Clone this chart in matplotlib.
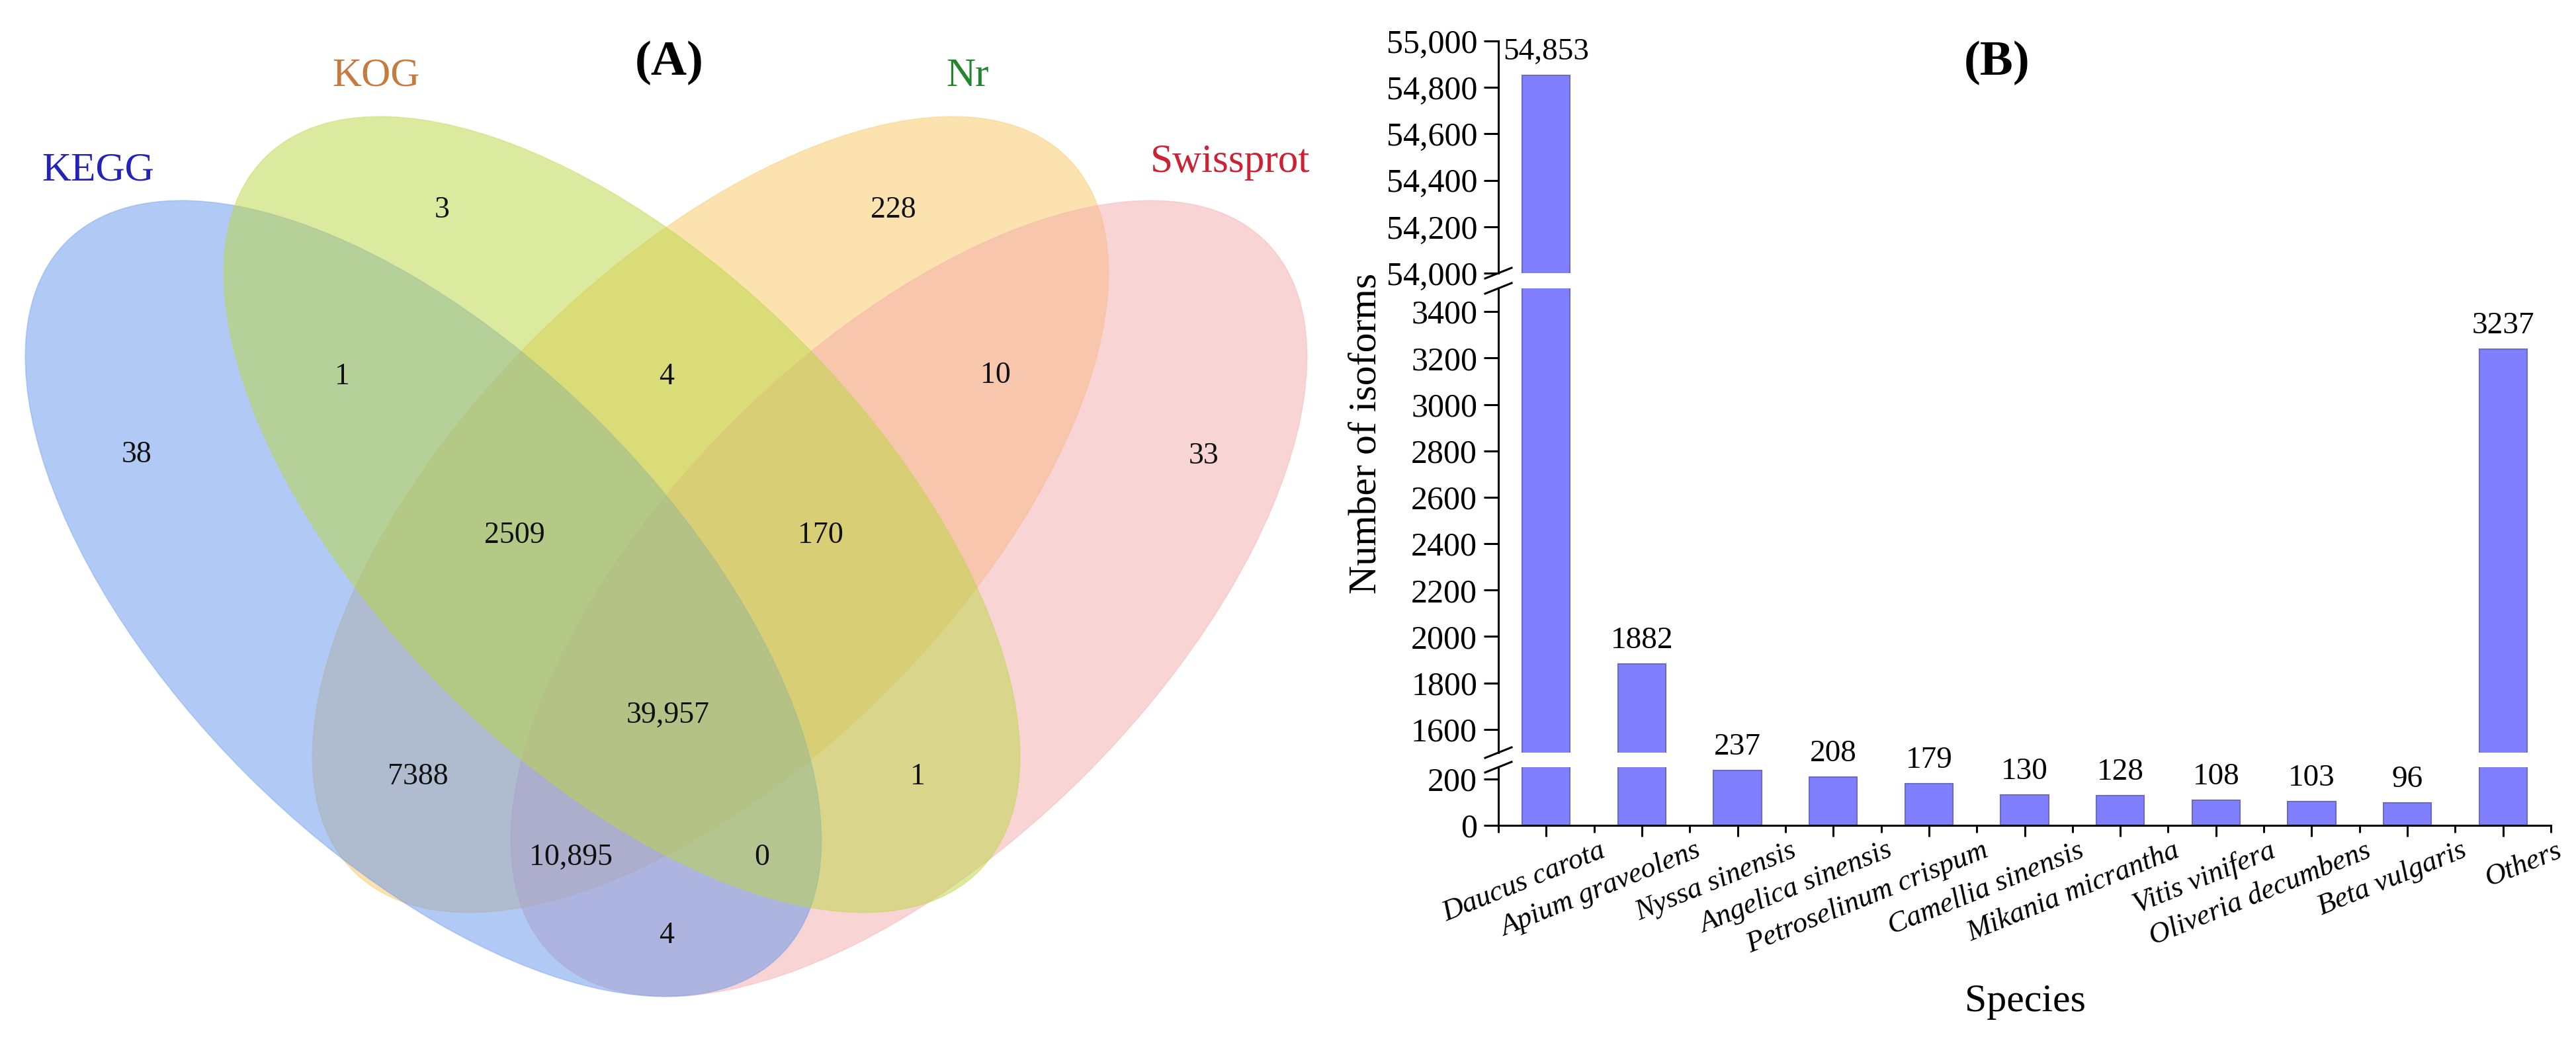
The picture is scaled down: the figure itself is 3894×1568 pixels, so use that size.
import matplotlib
matplotlib.use('Agg')
import matplotlib.pyplot as plt
from matplotlib.patches import Ellipse
from matplotlib.lines import Line2D
from matplotlib.transforms import offset_copy

plt.rcParams['font.family'] = ['Liberation Serif', 'DejaVu Serif']

# ---------------- data ----------------
set_names = ['KEGG', 'KOG', 'Nr', 'Swissprot']
set_label_colors = ['#2323B8', '#C57A40', '#23862F', '#CC2233']
set_fill_colors = ['#6495ED', '#BBD741', '#F9C761', '#F5ABAB']

region_names = ['KEGG', 'KOG', 'Nr', 'Swissprot',
                'KEGG&KOG', 'KOG&Nr', 'Nr&Swissprot',
                'KEGG&KOG&Nr', 'KOG&Nr&Swissprot', 'KEGG&KOG&Nr&Swissprot',
                'KEGG&Nr', 'KOG&Swissprot', 'KEGG&Nr&Swissprot',
                'KEGG&KOG&Swissprot', 'KEGG&Swissprot']
region_counts = [38, 3, 228, 33, 1, 4, 10, 2509, 170, 39957, 7388, 1, 10895, 0, 4]

species = ['Daucus carota', 'Apium graveolens', 'Nyssa sinensis', 'Angelica sinensis',
           'Petroselinum crispum', 'Camellia sinensis', 'Mikania micrantha',
           'Vitis vinifera', 'Oliveria decumbens', 'Beta vulgaris', 'Others']
isoforms = [54853, 1882, 237, 208, 179, 130, 128, 108, 103, 96, 3237]

# y-axis segments (broken axis): (low, high)
segments = [(54000, 55000), (1500, 3500), (0, 250)]
segment_ticks = [list(range(54000, 55001, 200)), list(range(1600, 3401, 200)), [0, 200]]

# ---------------- layout (pixels) ----------------
W, H = 3894, 1568
fig = plt.figure(figsize=(W / 100, H / 100), dpi=100)

# Venn panel drawn in pixel space
axv = fig.add_axes([0, 0, 1, 1])
axv.set_xlim(0, W)
axv.set_ylim(H, 0)
axv.axis('off')

ell_centers = [(640, 905), (940, 778), (1074, 778), (1374, 905)]
ell_angles = [45, 45, -45, -45]
draw_order = [2, 3, 0, 1]  # Nr, Swissprot, KEGG, KOG (KOG on top)
for i in draw_order:
    (cx, cy), ang, col = ell_centers[i], ell_angles[i], set_fill_colors[i]
    axv.add_patch(Ellipse((cx, cy), 1526, 754, angle=ang, facecolor=col,
                          alpha=0.5, edgecolor='none'))
    axv.add_patch(Ellipse((cx, cy), 1526, 754, angle=ang, facecolor='none',
                          edgecolor=col, alpha=0.35, lw=1.2))

label_pos = [(148, 258), (568, 115), (1463, 115), (1860, 245)]
for name, (x, y), c in zip(set_names, label_pos, set_label_colors):
    axv.text(x, y, name, color=c, fontsize=44, ha='center', va='center')

region_pos = [(207, 688), (668, 318), (1350, 318), (1820, 690),
              (517, 570), (1008, 570), (1505, 568),
              (778, 810), (1240, 810), (1010, 1082),
              (632, 1175), (1387, 1175), (863, 1297),
              (1152, 1297), (1008, 1415)]


def fmt(v):
    return f'{v:,}' if v >= 10000 else str(v)


for cnt, (x, y) in zip(region_counts, region_pos):
    axv.text(x, y, fmt(cnt), fontsize=33, ha='center', va='center', color='#111111')

axv.text(1012, 95, '(A)', fontsize=54, fontweight='bold', ha='center', va='center')
axv.text(3019, 95, '(B)', fontsize=54, fontweight='bold', ha='center', va='center')

# ---------------- bar chart ----------------
x_left, x_right = 2265, 3856
seg_pix = [(62, 413), (436, 1138), (1160, 1248)]
bar_color = '#8080FF'
edge_color = '#6A6AC8'
xs = list(range(len(species)))

axes = []
for k, ((lo, hi), (ytop, ybot), ticks) in enumerate(zip(segments, seg_pix, segment_ticks)):
    ax = fig.add_axes([x_left / W, 1 - ybot / H, (x_right - x_left) / W, (ybot - ytop) / H])
    ax.patch.set_alpha(0)
    ax.bar(xs, isoforms, width=0.5, color=bar_color, edgecolor=edge_color, linewidth=1.5)
    ax.set_xlim(-0.5, len(species) - 0.5)
    ax.set_ylim(lo, hi)
    ax.set_yticks(ticks)
    if k == 0:
        ax.set_yticklabels([f'{t:,}' for t in ticks])
    else:
        ax.set_yticklabels([str(t) for t in ticks])
    for s in ['top', 'right']:
        ax.spines[s].set_visible(False)
    ax.spines['left'].set_linewidth(2.2)
    ax.tick_params(axis='y', direction='out', length=16, width=2.2, pad=7, labelsize=36)
    if k < 2:
        ax.spines['bottom'].set_visible(False)
        ax.set_xticks([])
    else:
        ax.spines['bottom'].set_linewidth(2.2)
        ax.set_xticks(xs)
        ax.set_xticklabels([''] * len(xs))
        ax.set_xticks([x + 0.5 for x in [-1] + xs], minor=True)
        ax.tick_params(axis='x', which='major', direction='out', length=12, width=2.2)
        ax.tick_params(axis='x', which='minor', direction='out', length=8, width=2.2)
        trans = offset_copy(ax.transData, fig=fig, x=80, y=-18, units='dots')
        for x, name in zip(xs, species):
            ax.text(x, 0, name, transform=trans, rotation=22, rotation_mode='anchor',
                    ha='right', va='top', fontsize=32, style='italic')
    for x, v in zip(xs, isoforms):
        if lo <= v <= hi:
            ax.annotate(fmt(v), (x, v), xytext=(0, 24), textcoords='offset pixels',
                        ha='center', va='baseline', fontsize=34, annotation_clip=False)
    axes.append(ax)

# break marks on the y axis
break_ys = [413, 436, 1138, 1160]
for yb in break_ys:
    fig.add_artist(Line2D([(x_left - 20) / W, (x_left + 20) / W],
                          [1 - (yb + 8) / H, 1 - (yb - 8) / H],
                          color='black', lw=2.2, transform=fig.transFigure))

fig.text(2065 / W, 1 - 655 / H, 'Number of isoforms', rotation=90, ha='center',
         va='center', fontsize=43)
fig.text(3061 / W, 1 - 1515 / H, 'Species', ha='center', va='center', fontsize=43)

fig.savefig('out.png', dpi=100)
